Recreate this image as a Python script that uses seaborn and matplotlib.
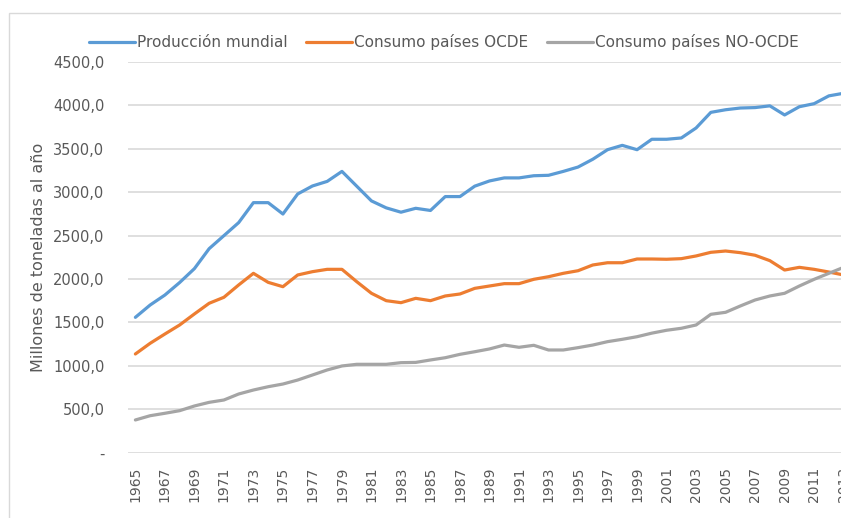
import numpy as np
import pandas as pd
import seaborn as sns
from matplotlib import pyplot as plt
from matplotlib.patches import Rectangle

sns.set_style('white')
plt.rcParams['font.family'] = ['DejaVu Sans']

#%% data
years = np.arange(1965, 2014)

produccion = [1559, 1701, 1816, 1960, 2120, 2350, 2500, 2650, 2880, 2880,
              2749, 2980, 3072, 3125, 3240, 3070, 2900, 2820, 2770, 2815,
              2790, 2950, 2950, 3070, 3130, 3165, 3165, 3190, 3195, 3240,
              3290, 3380, 3490, 3540, 3490, 3610, 3610, 3625, 3740, 3920,
              3950, 3970, 3975, 3995, 3890, 3985, 4020, 4110, 4140]

ocde = [1137, 1260, 1367, 1471, 1598, 1721, 1790, 1932, 2066, 1962,
        1912, 2047, 2085, 2112, 2112, 1970, 1836, 1751, 1728, 1778,
        1751, 1805, 1828, 1893, 1920, 1947, 1947, 1997, 2027, 2066,
        2096, 2162, 2188, 2188, 2231, 2231, 2228, 2235, 2266, 2308,
        2323, 2304, 2274, 2212, 2104, 2135, 2112, 2081, 2047]

no_ocde = [377, 426, 454, 484, 538, 580, 607, 676, 722, 760,
           791, 837, 895, 953, 999, 1018, 1018, 1018, 1037, 1040,
           1068, 1094, 1133, 1163, 1195, 1240, 1214, 1237, 1183, 1183,
           1210, 1240, 1279, 1306, 1336, 1377, 1410, 1433, 1471, 1594,
           1617, 1690, 1759, 1805, 1836, 1920, 1997, 2066, 2135]

series = ['Producción mundial', 'Consumo países OCDE', 'Consumo países NO-OCDE']
colors = ['#5B9BD5', '#ED7D31', '#A5A5A5']

yticks = np.arange(0, 5000, 500)
ytick_labels = ['-', '500,0', '1000,0', '1500,0', '2000,0', '2500,0',
                '3000,0', '3500,0', '4000,0', '4500,0']
xticks = np.arange(1965, 2014, 2)

df = pd.DataFrame({
    'year': np.tile(years, 3),
    'value': np.concatenate([produccion, ocde, no_ocde]),
    'serie': np.repeat(series, len(years)),
})

#%% figure
fig = plt.figure(figsize=(8.41, 5.18), dpi=100)
# plot area runs past the right edge (picture is cropped there)
ax = fig.add_axes([128/841, 65.3/518, 723/841, 390.7/518])

fig.add_artist(Rectangle((9/841, -0.5), 2.0, 0.5 + (518-12.7)/518, transform=fig.transFigure,
                         fill=False, edgecolor='#d9d9d9', linewidth=1.0))

sns.lineplot(data=df, x='year', y='value', hue='serie', hue_order=series,
             palette=colors, linewidth=2.3, ax=ax, legend=True)

ax.set_xlim(1964.5, 2013.5)
ax.set_ylim(0, 4500)
ax.set_yticks(yticks)
ax.set_yticklabels(ytick_labels)
ax.set_xticks(xticks)
ax.set_xticklabels([str(y) for y in xticks], rotation=90)
ax.tick_params(axis='y', length=0, pad=17, labelsize=10.5, labelcolor='#595959')
ax.tick_params(axis='x', length=0, pad=10, labelsize=10, labelcolor='#595959')
ax.grid(axis='y', color='#d9d9d9', linewidth=1.2)
ax.set_axisbelow(True)
for s in ax.spines.values():
    s.set_visible(False)

ax.set_xlabel('')
ax.set_ylabel('Millones de toneladas al año', fontsize=11.5, color='#595959', labelpad=5)

handles, labels = ax.get_legend_handles_labels()
ax.legend(handles, labels, loc='center', bbox_to_anchor=(444/841, 1 - 42/518),
          bbox_transform=fig.transFigure, ncol=3, frameon=False, fontsize=11,
          handlelength=3.0, handletextpad=0.15, columnspacing=1.2,
          labelcolor='#595959')

fig.savefig('out.png', dpi=100)
